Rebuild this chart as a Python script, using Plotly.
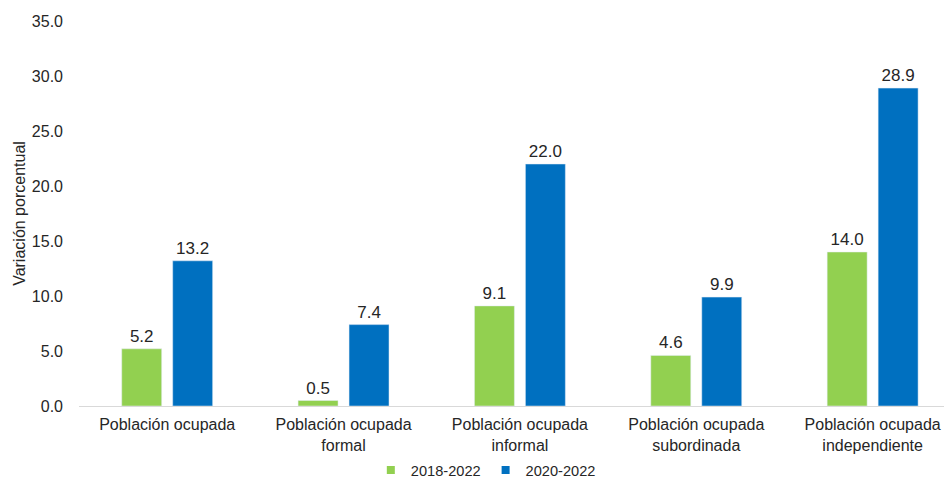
import plotly.graph_objects as go

categories = ["Población ocupada", "Población ocupada<br>formal", "Población ocupada<br>informal",
              "Población ocupada<br>subordinada", "Población ocupada<br>independiente"]
series_names = ["2018-2022", "2020-2022"]
values_2018_2022 = [5.2, 0.5, 9.1, 4.6, 14.0]
values_2020_2022 = [13.2, 7.4, 22.0, 9.9, 28.9]
colors = ["#92D050", "#0070C0"]
y_ticks = [0, 5, 10, 15, 20, 25, 30, 35]

FONT = "Liberation Sans, Arial, sans-serif"
TXT = "#262626"

fig = go.Figure()
for name, vals, col in zip(series_names, [values_2018_2022, values_2020_2022], colors):
    fig.add_trace(go.Bar(
        x=categories, y=vals, name=name, marker_color=col, showlegend=False,
        text=[f"{v:.1f}" for v in vals], textposition="outside",
        textfont=dict(size=17, color=TXT, family=FONT), cliponaxis=False,
    ))
# legend-only markers (small squares like the original)
for name, col in zip(series_names, colors):
    fig.add_trace(go.Scatter(
        x=[None], y=[None], mode="markers", name=name,
        marker=dict(symbol="square", size=8, color=col), showlegend=True,
    ))

# page body has an 8px default margin, so the figure is sized to fit the window
fig.update_layout(
    width=944, height=473,
    margin=dict(l=71, r=0, t=13, b=75, autoexpand=False),
    paper_bgcolor="white", plot_bgcolor="white",
    barmode="group", bargap=0.422, bargroupgap=0.216,
    font=dict(family=FONT, size=16, color=TXT),
    legend=dict(orientation="h", xref="paper", x=0.466, xanchor="center",
                yref="paper", y=-0.166, yanchor="middle", bgcolor="rgba(0,0,0,0)",
                font=dict(size=14.6, color=TXT), itemwidth=30, tracegroupgap=0),
)
fig.update_yaxes(
    range=[0, 35], tickvals=y_ticks, tickformat=".1f", showgrid=False, zeroline=False,
    showline=False, ticklabelstandoff=15, automargin=False,
    tickfont=dict(size=16, color=TXT),
    title=dict(text="Variación porcentual", font=dict(size=16, color=TXT), standoff=2),
)
fig.update_xaxes(
    type="category", range=[-0.5, 4.45],
    showline=True, linecolor="#D9D9D9", linewidth=1, showgrid=False, automargin=False,
    tickfont=dict(size=16, color=TXT), ticks="", ticklabelstandoff=4,
)

fig.write_html("out.html")
